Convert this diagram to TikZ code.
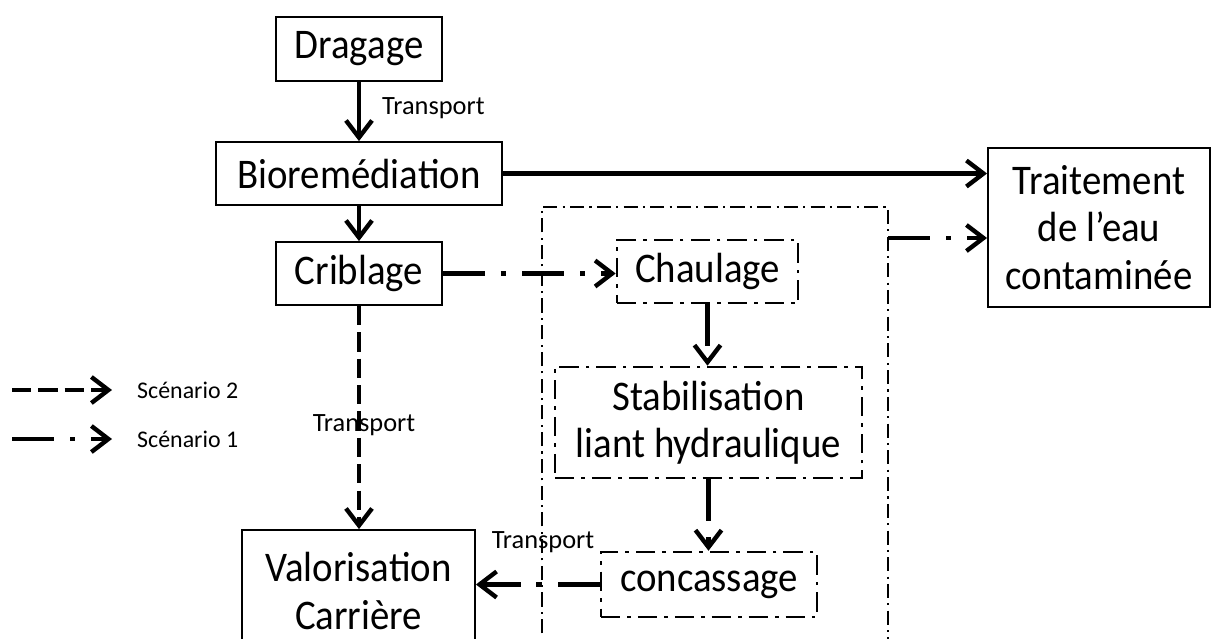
\documentclass[tikz,border=0pt]{standalone}
\usepackage{fontspec}
\setmainfont{Carlito}
\newfontfamily\boxfamily[FakeStretch=0.92]{Carlito}
\usetikzlibrary{arrows.meta}

\newcommand{\boxfont}{\boxfamily\fontsize{12}{13.5}\selectfont}
\newcommand{\labelfont}{\fontsize{7.5}{9}\selectfont}
\newcommand{\legfont}{\fontsize{6.8}{8}\selectfont}

\tikzset{
  etape/.style={draw, line width=0.5pt, align=center, inner sep=0pt, font=\boxfont},
  etapeopt/.style={etape, line width=0.7pt, dash pattern=on 5.5pt off 2pt on 1pt off 2pt},
  fleche/.style={line width=1.25pt, -{Straight Barb[length=1.7mm, width=2.6mm]}},
  scen2/.style={fleche, dash pattern=on 5.5pt off 2pt},
  scen1/.style={fleche, dash pattern=on 12pt off 4.5pt on 1.5pt off 4.5pt},
  etiq/.style={font=\labelfont, inner sep=1pt},
}

\begin{document}
\begin{tikzpicture}[x=0.01cm, y=-0.01cm]
  \useasboundingbox (0,0) rectangle (1211,639);
  \clip (0,0) rectangle (1211,639);

  % etapes
  \node[etape, minimum width=1.66cm, minimum height=0.64cm] (drag) at (359,49) {Dragage};
  \node[etape, minimum width=2.86cm, minimum height=0.63cm] (bio) at (359,173.5) {Bioremédiation};
  \node[etape, minimum width=1.66cm, minimum height=0.63cm] (crib) at (359,273.5) {Criblage};
  \node[etape, minimum width=2.22cm, minimum height=1.59cm] (trait) at (1099,227.5) {Traitement\\de l’eau\\contaminée};
  \node[etape, minimum width=2.33cm, minimum height=1.22cm] (valo) at (358.5,591) {Valorisation\\Carrière};
  \node[etapeopt, minimum width=1.81cm, minimum height=0.63cm] (chaul) at (707.5,271.5) {Chaulage};
  \node[etapeopt, minimum width=3.07cm, minimum height=1.11cm] (stab) at (708.5,422.5) {Stabilisation\\liant hydraulique};
  \node[etapeopt, minimum width=2.16cm, minimum height=0.65cm] (conc) at (709,584.5) {concassage};

  \node[etiq, anchor=west] (tr1) at (378,108) {Transport};
  \node[etiq] (tr2) at (364,425) {Transport};
  \node[etiq] (tr3) at (543,542) {Transport};

  % zone scenario 1
  \draw[line width=0.4pt, dash pattern=on 4pt off 1.5pt on 0.6pt off 1.5pt]
    (542,660) -- (542,207) -- (888,207) -- (888,660);
  \coordinate (zoneout) at (888,238);

  % fleches
  \draw[fleche] (drag) -- (bio);
  \draw[fleche] (bio) -- (crib);
  \draw[fleche] (bio.east) -- (bio.east -| trait.west);
  \draw[scen2] (crib.south) -- (crib.south |- valo.north);
  \draw[scen1] (crib.east) -- (crib.east -| chaul.west);
  \draw[scen1] (chaul.south) -- (chaul.south |- stab.north);
  \draw[scen1] (stab.south) -- (stab.south |- conc.north);
  \draw[scen1] (conc.west) -- (conc.west -| valo.east);
  \draw[scen1] (zoneout) -- (zoneout -| trait.west);

  % legende
  \coordinate (l2a) at (12,390);
  \coordinate (l2b) at (112,390);
  \coordinate (l1a) at (12,439);
  \coordinate (l1b) at (112,439);
  \draw[scen2] (l2a) -- (l2b);
  \draw[scen1] (l1a) -- (l1b);
  \node[etiq, font=\legfont, anchor=west] (sc2) at (133,390) {Scénario 2};
  \node[etiq, font=\legfont, anchor=west] (sc1) at (133,439) {Scénario 1};
\end{tikzpicture}
\end{document}
